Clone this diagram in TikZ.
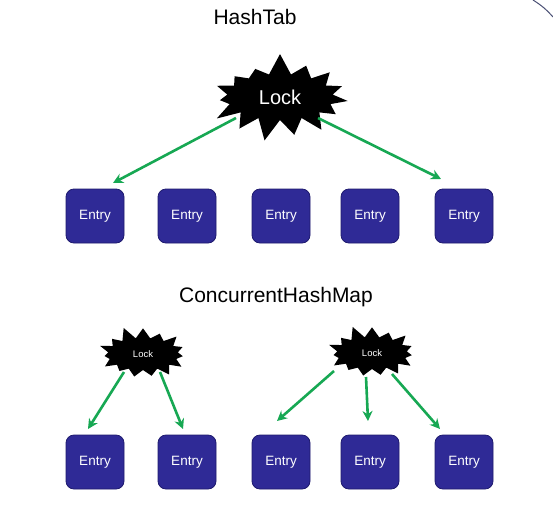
\documentclass[tikz,border=0pt]{standalone}
\usepackage{fontspec}
\setmainfont{Liberation Sans}
\usetikzlibrary{shapes.symbols,arrows.meta}
\definecolor{entryfill}{HTML}{2F2A96}
\definecolor{entrydraw}{HTML}{1E1A6E}
\definecolor{arrowgreen}{HTML}{17A853}
\definecolor{curvecol}{HTML}{4A5075}
\begin{document}
\begin{tikzpicture}[x=1pt,y=-1pt,
  entry/.style={rectangle, rounded corners=8pt, fill=entryfill, draw=entrydraw, line width=0.8pt,
    minimum width=58pt, minimum height=54pt, text=white, font=\fontsize{13.5}{15}\selectfont},
  lockbig/.style={starburst, fill=black, text=white, starburst points=15, starburst point height=22pt,
    random starburst=7, minimum width=150pt, minimum height=90pt, inner sep=0pt,
    font=\fontsize{20}{22}\selectfont},
  locksmall/.style={starburst, fill=black, text=white, starburst points=15, starburst point height=13pt,
    random starburst=11, minimum width=96pt, minimum height=58pt, inner sep=0pt,
    font=\fontsize{9.5}{10}\selectfont},
  arr/.style={draw=arrowgreen, line width=2.6pt, -{Stealth[length=10pt,width=10pt]}},
  title/.style={font=\fontsize{21}{23}\selectfont}
]
\useasboundingbox (0,0) rectangle (553,514);
\fill[white] (0,0) rectangle (553,514);
% decorative curve top right
\draw[curvecol, line width=1pt] (533,0) to[bend left=8] (553,17);

\node[title] (t1) at (255,17) {HashTab};
\node[title] (t2) at (276,297) {ConcurrentHashMap};

\node[lockbig] (L) at (280,97) {Lock};
\coordinate (La) at (236,118);
\coordinate (Lb) at (318,118);

\foreach \i/\x in {1/95,2/187,3/281,4/370,5/464}{
  \node[entry] (a\i) at (\x,216) {Entry};
  \node[entry] (b\i) at (\x,462) {Entry};
}

\draw[arr] (La) -- (113,183) coordinate (ea1);
\draw[arr] (Lb) -- (441,179) coordinate (ea5);

\node[locksmall] (S1) at (143,354) {Lock};
\node[locksmall] (S2) at (372,353) {Lock};

\coordinate (s1a) at (124,372);
\coordinate (s1b) at (160,372);
\coordinate (s2a) at (334,371);
\coordinate (s2b) at (366,377);
\coordinate (s2c) at (392,374);
\coordinate (e1) at (88,429);
\coordinate (e2) at (183,429);
\coordinate (e3) at (277,421);
\coordinate (e4) at (368,421);
\coordinate (e5) at (440,429);
\draw[arr] (s1a) -- (e1);
\draw[arr] (s1b) -- (e2);
\draw[arr] (s2a) -- (e3);
\draw[arr] (s2b) -- (e4);
\draw[arr] (s2c) -- (e5);
\end{tikzpicture}
\end{document}
